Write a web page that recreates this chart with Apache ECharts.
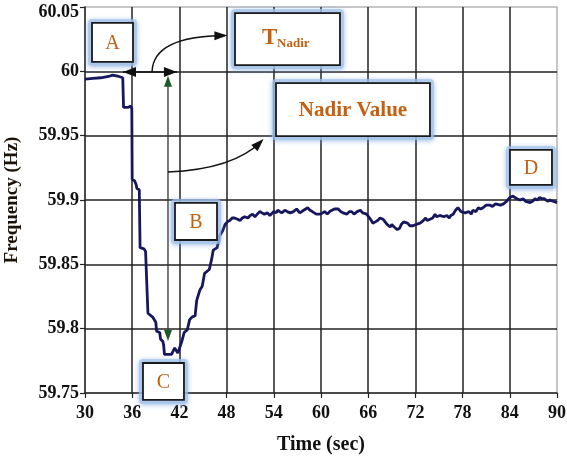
<!DOCTYPE html>
<html><head><meta charset="utf-8">
<script src="https://cdn.jsdelivr.net/npm/echarts@6/dist/echarts.min.js"></script>
<style>html,body{margin:0;padding:0;background:#fff}#c{width:567px;height:464px}</style>
</head><body><div id="c"></div>
<script>
// ---- data ----
const timeSec = [30.0,31.0,32.0,33.0,33.5,34.3,34.8,34.9,35.5,35.8,35.95,36.0,36.3,36.5,36.6,36.9,37.0,37.5,37.7,37.9,38.0,38.6,39.0,39.1,39.5,39.6,39.9,40.0,40.1,41.0,41.4,41.8,42.0,42.3,42.6,43.0,43.3,43.6,44.0,44.2,44.6,44.9,45.2,45.8,46.1,46.3,46.8,47.1,47.5,47.8,48.1,48.4,48.7,49.0,49.4,49.7,50.0,50.3,50.7,51.0,51.3,51.6,51.9,52.2,52.5,52.8,53.2,53.5,54.0,54.3,54.5,55.0,55.4,55.7,56.1,56.5,56.9,57.3,57.8,58.3,58.6,58.9,59.4,59.9,60.2,60.5,60.8,61.1,61.4,61.7,62.2,62.5,62.8,63.3,63.6,63.9,64.2,64.6,65.0,65.3,65.8,66.3,66.6,66.9,67.2,67.5,67.9,68.4,68.8,69.0,69.3,69.7,70.0,70.2,70.5,71.0,71.3,71.7,72.1,72.6,73.0,73.3,73.5,74.2,74.5,74.7,75.1,75.6,76.0,76.3,76.5,76.8,77.1,77.4,77.8,78.3,78.8,79.1,79.3,79.7,80.0,80.3,80.6,81.0,81.5,81.8,82.2,82.8,83.2,83.6,84.0,84.4,84.9,85.3,85.7,86.0,86.6,86.9,87.2,87.5,87.8,88.1,88.4,88.8,89.1,89.5,90.0];
const freqHz = [59.994,59.9945,59.995,59.996,59.997,59.996,59.995,59.972,59.972,59.973,59.971,59.916,59.915,59.912,59.909,59.908,59.863,59.862,59.860,59.859,59.812,59.809,59.805,59.798,59.797,59.792,59.790,59.787,59.780,59.780,59.785,59.781,59.782,59.790,59.797,59.799,59.807,59.809,59.810,59.822,59.830,59.833,59.843,59.846,59.854,59.861,59.863,59.872,59.876,59.881,59.883,59.884,59.886,59.886,59.885,59.884,59.886,59.887,59.886,59.888,59.889,59.887,59.889,59.891,59.890,59.889,59.890,59.888,59.891,59.890,59.892,59.890,59.892,59.891,59.890,59.891,59.893,59.890,59.892,59.894,59.892,59.891,59.889,59.889,59.890,59.891,59.889,59.891,59.892,59.893,59.893,59.891,59.890,59.889,59.891,59.891,59.889,59.891,59.892,59.890,59.889,59.885,59.882,59.883,59.884,59.886,59.885,59.881,59.879,59.881,59.879,59.877,59.878,59.881,59.883,59.882,59.880,59.880,59.881,59.882,59.884,59.886,59.884,59.886,59.889,59.887,59.888,59.887,59.888,59.886,59.888,59.889,59.892,59.894,59.891,59.890,59.891,59.889,59.892,59.891,59.894,59.893,59.894,59.896,59.896,59.895,59.897,59.896,59.897,59.899,59.902,59.903,59.901,59.900,59.901,59.899,59.898,59.899,59.901,59.900,59.902,59.901,59.901,59.899,59.900,59.899,59.898];
const xAxisName = 'Time (sec)';
const yAxisName = 'Frequency (Hz)';
const pointLabels = ['A','B','C','D'];
const nadirTimeLabel = ['T','Nadir'];
const nadirValueLabel = 'Nadir Value';
const yMin = 59.75, yMax = 60.05;

const serif = '"Liberation Serif","Times New Roman",serif';
const chart = echarts.init(document.getElementById('c'), null, {renderer:'canvas'});
chart.setOption({
  animation:false,
  backgroundColor:'#fff',
  grid:{left:85,right:10,top:7,bottom:71,outerBoundsMode:'none',containLabel:false,show:true,borderColor:'#b5b5b5',borderWidth:1.5,backgroundColor:'#fff'},
  xAxis:{type:'value',min:30,max:90,interval:6,
    name:xAxisName,nameLocation:'middle',nameGap:42,
    nameTextStyle:{fontFamily:serif,fontWeight:'bold',fontSize:20,color:'#111'},
    axisLine:{lineStyle:{color:'#222',width:1.5}},
    axisTick:{show:true,length:5,lineStyle:{color:'#222',width:1.2}},
    axisLabel:{fontFamily:serif,fontWeight:'bold',fontSize:18,color:'#111',margin:11},
    splitLine:{show:true,showMinLine:false,showMaxLine:false,lineStyle:{color:'#222',width:1.5}}
  },
  yAxis:{type:'value',min:yMin,max:yMax,interval:0.05,
    name:yAxisName,nameLocation:'middle',nameGap:63,nameRotate:90,
    nameTextStyle:{fontFamily:serif,fontWeight:'bold',fontSize:19,color:'#1a1208'},
    axisLine:{show:true,lineStyle:{color:'#222',width:1.5}},
    axisTick:{show:true,length:5,lineStyle:{color:'#222',width:1.2}},
    axisLabel:{fontFamily:serif,fontWeight:'bold',fontSize:18,color:'#111',margin:6,
      formatter:v=>{const s=String(+v.toFixed(2)); return Math.abs(v-yMax)<1e-6?'{top|'+s+'}':s;},
      rich:{top:{fontFamily:serif,fontWeight:'bold',fontSize:18,color:'#111',padding:[11,0,0,0]}}},
    splitLine:{show:true,showMinLine:false,showMaxLine:false,lineStyle:{color:'#222',width:1.5}}
  },
  series:[{type:'line',data:timeSec.map((t,i)=>[t,freqHz[i]]),showSymbol:false,
    lineStyle:{color:'#17175e',width:2.8},z:5}]
});

// ---- annotations, positioned in data coordinates ----
const P = (t,f)=>chart.convertToPixel({gridIndex:0},[t,f]);
const orange = '#c4600f';
const g = [];
function box(t0,f0,t1,f1){
  const a=P(t0,f0), b=P(t1,f1);
  const x=Math.min(a[0],b[0]), y=Math.min(a[1],b[1]);
  const w=Math.abs(b[0]-a[0]), h=Math.abs(b[1]-a[1]);
  g.push({type:'rect',z:100,shape:{x:x-4,y:y-4,width:w+8,height:h+8,r:4},
    style:{fill:'rgba(165,196,235,0.7)',shadowBlur:5,shadowColor:'rgba(100,150,215,0.85)',shadowOffsetY:1}});
  g.push({type:'rect',z:101,shape:{x:x,y:y,width:w,height:h},style:{fill:'#fff',stroke:'#1a1a1a',lineWidth:1.8}});
  return {cx:x+w/2,cy:y+h/2,x,y,w,h};
}
function txt(x,y,s,size,weight,align){
  g.push({type:'text',z:102,style:{x,y,text:s,fill:orange,font:`${weight} ${size}px ${serif}`,align:align||'center',verticalAlign:'middle'}});
}
function head(tip,from,len,wid,color){
  const dx=tip[0]-from[0], dy=tip[1]-from[1], d=Math.hypot(dx,dy)||1;
  const ux=dx/d, uy=dy/d, bx=tip[0]-ux*len, by=tip[1]-uy*len;
  g.push({type:'polygon',z:103,shape:{points:[tip,[bx-uy*wid/2,by+ux*wid/2],[bx+uy*wid/2,by-ux*wid/2]]},style:{fill:color}});
}
function curve(p0,c1,c2,p1){
  g.push({type:'bezierCurve',z:99,shape:{x1:p0[0],y1:p0[1],cpx1:c1[0],cpy1:c1[1],cpx2:c2[0],cpy2:c2[1],x2:p1[0],y2:p1[1]},
    style:{stroke:'#111',lineWidth:1.5,fill:null}});
}

let b;
b=box(30.89,60.0376,36.10,60.0073); txt(b.cx,b.cy+1,pointLabels[0],20,'normal');
b=box(41.44,59.8977,46.78,59.8689); txt(b.cx,b.cy+1,pointLabels[1],20,'normal');
b=box(37.37,59.7733,42.58,59.7446); txt(b.cx,b.cy+1,pointLabels[2],20,'normal');
b=box(84.02,59.9389,89.36,59.9117); txt(b.cx,b.cy+1,pointLabels[3],20,'normal');
b=box(49.07,60.0453,62.41,60.0049);
txt(b.x+27,b.cy-1,nadirTimeLabel[0],23,'bold','left');
txt(b.x+42,b.cy+5,nadirTimeLabel[1],13,'bold','left');
b=box(54.28,59.9909,73.85,59.9497); txt(b.cx,b.cy+1,nadirValueLabel,21,'bold');

// T_Nadir double arrow
const L=P(34.83,59.9995), R=P(41.69,59.9995);
g.push({type:'line',z:99,shape:{x1:L[0],y1:L[1],x2:R[0],y2:R[1]},style:{stroke:'#111',lineWidth:1.5}});
head(L,[L[0]+5,L[1]],13,10,'#111'); head(R,[R[0]-5,R[1]],13,10,'#111');
// curved arrow to T_Nadir
const c0=P(38.52,59.9995), c1=P(38.6,60.017), c2=P(41.4,60.0275), c3=P(47.8,60.0278);
curve(c0,c1,c2,c3); head(P(48.1,60.0278),c2,13,9,'#111');
// vertical nadir arrow (green heads)
const vT=P(40.55,59.9965), vB=P(40.55,59.7905);
g.push({type:'line',z:99,shape:{x1:vT[0],y1:vT[1]+3,x2:vB[0],y2:vB[1]-3},style:{stroke:'#333',lineWidth:1.3}});
head(vT,[vT[0],vT[1]+5],11,8,'#1e5a2a'); head(vB,[vB[0],vB[1]-5],11,8,'#1e5a2a');
// curved arrow to Nadir Value
const d0=P(40.55,59.9218), d1=P(46.5,59.9233), d2=P(50.3,59.9327), d3=P(52.4,59.9455);
curve(d0,d1,d2,d3); head(P(52.7,59.9475),d2,13,9,'#111');

chart.setOption({graphic:g});
</script>
</body></html>
